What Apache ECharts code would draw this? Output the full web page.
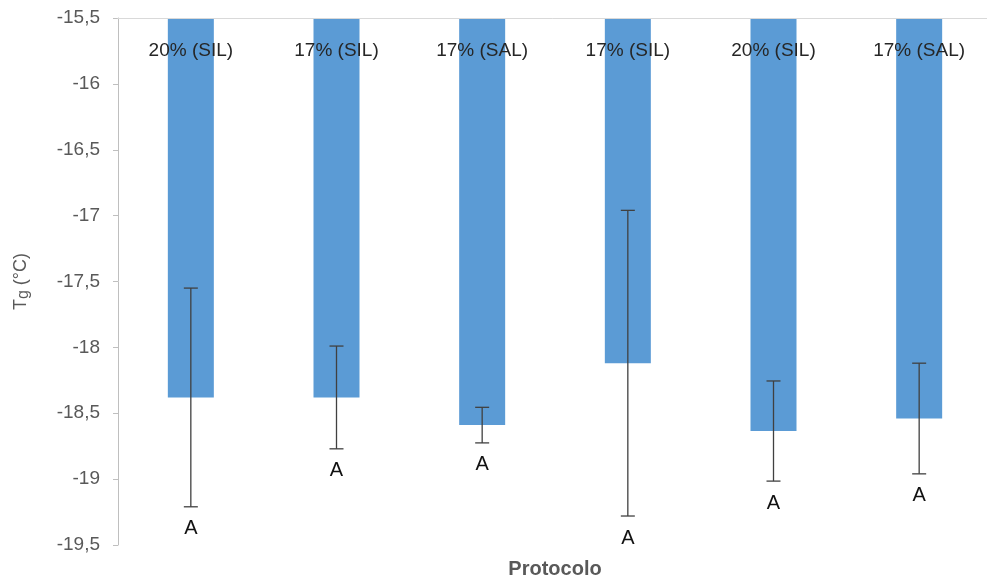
<!DOCTYPE html>
<html>
<head>
<meta charset="utf-8">
<script src="https://cdn.jsdelivr.net/npm/echarts@6/dist/echarts.min.js"></script>
<style>
  html, body { margin: 0; padding: 0; background: #fff; }
  #chart { width: 987px; height: 579px; }
</style>
</head>
<body>
<div id="chart"></div>
<script>
// Glass transition temperature per protocol
const categories = ['20% (SIL)', '17% (SIL)', '17% (SAL)', '17% (SIL)', '20% (SIL)', '17% (SAL)'];
const tgMean = [-18.38, -18.38, -18.59, -18.12, -18.635, -18.54];
const tgError = [0.83, 0.39, 0.135, 1.16, 0.38, 0.42];
const groupLetters = ['A', 'A', 'A', 'A', 'A', 'A'];
const yTicks = { min: -19.5, max: -15.5, step: 0.5 };

const errorData = categories.map((c, i) => [i, tgMean[i] - tgError[i], tgMean[i] + tgError[i], groupLetters[i]]);

const FONT = 'Liberation Sans, Arial, sans-serif';
const chart = echarts.init(document.getElementById('chart'), null, { renderer: 'canvas' });

chart.setOption({
  animation: false,
  backgroundColor: '#ffffff',
  grid: { left: 118, top: 18, width: 874, height: 527, outerBoundsMode: 'none', containLabel: false },
  xAxis: {
    type: 'category',
    data: categories,
    position: 'top',
    z: 10,
    name: 'Protocolo',
    nameLocation: 'middle',
    nameGap: -561,
    nameTextStyle: { color: '#595959', fontSize: 20, fontWeight: 'bold', fontFamily: FONT },
    axisLine: { show: true, lineStyle: { color: '#d9d9d9', width: 1 } },
    axisTick: { show: false },
    axisLabel: { inside: true, margin: 23, color: '#262626', fontSize: 19, fontFamily: FONT },
    splitLine: { show: false }
  },
  yAxis: {
    type: 'value',
    min: yTicks.min,
    max: yTicks.max,
    interval: yTicks.step,
    name: '{t|T}{s|g}{t| (°C)}',
    nameLocation: 'middle',
    nameGap: 86,
    nameRotate: 90,
    nameTextStyle: {
      rich: {
        t: { color: '#595959', fontSize: 18, fontFamily: FONT },
        s: { color: '#595959', fontSize: 16, fontFamily: FONT, padding: [5, 0, 0, 0] }
      }
    },
    axisLine: { show: true, lineStyle: { color: '#bfbfbf', width: 1 } },
    axisTick: { show: true, inside: false, length: 5, lineStyle: { color: '#bfbfbf' } },
    axisLabel: {
      margin: 18, color: '#595959', fontSize: 19, fontFamily: FONT,
      formatter: v => String(Math.round(v * 10) / 10).replace('.', ',')
    },
    splitLine: { show: false }
  },
  series: [
    {
      type: 'bar',
      data: tgMean,
      barWidth: 46,
      clip: true,
      itemStyle: { color: '#5b9bd5' },
      z: 2
    },
    {
      type: 'custom',
      data: errorData,
      z: 5,
      renderItem: function (params, api) {
        const i = api.value(0);
        const lo = api.coord([i, api.value(1)]);
        const hi = api.coord([i, api.value(2)]);
        const cap = 7;
        const style = { stroke: '#404040', lineWidth: 1.3 };
        return {
          type: 'group',
          children: [
            { type: 'line', shape: { x1: lo[0], y1: lo[1], x2: hi[0], y2: hi[1] }, style: style },
            { type: 'line', shape: { x1: lo[0] - cap, y1: lo[1], x2: lo[0] + cap, y2: lo[1] }, style: style },
            { type: 'line', shape: { x1: hi[0] - cap, y1: hi[1], x2: hi[0] + cap, y2: hi[1] }, style: style },
            {
              type: 'text',
              x: lo[0], y: lo[1] + 22,
              style: {
                text: api.value(3), fill: '#111111', fontSize: 20, fontFamily: FONT,
                align: 'center', verticalAlign: 'middle'
              }
            }
          ]
        };
      }
    }
  ]
});
</script>
</body>
</html>
